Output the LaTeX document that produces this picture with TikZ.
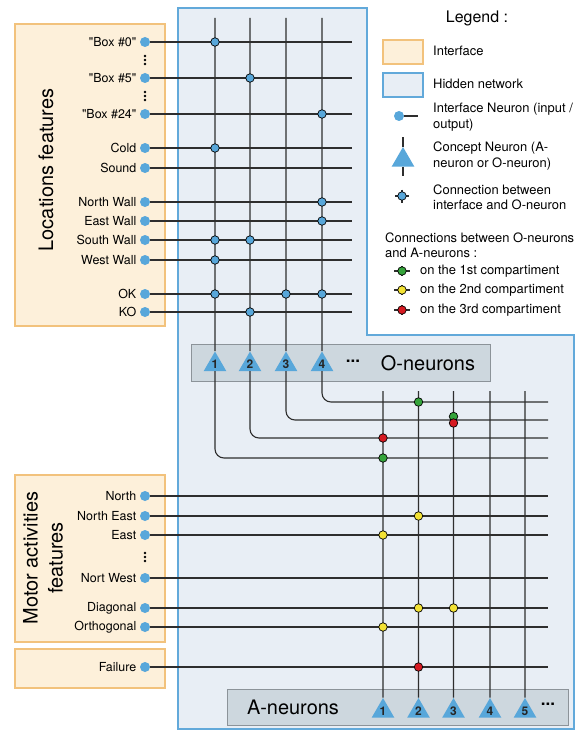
\documentclass[tikz,border=0pt]{standalone}
\usepackage{fontspec}
\setmainfont{TeX Gyre Heros}
\usetikzlibrary{shapes.geometric}

\definecolor{ifacefill}{HTML}{FDF0DA}
\definecolor{ifaceline}{HTML}{F2C27C}
\definecolor{hidfill}{HTML}{E8EEF5}
\definecolor{hidline}{HTML}{62A9DA}
\definecolor{groupfill}{HTML}{CDD7DE}
\definecolor{groupline}{HTML}{8C9399}
\definecolor{nblue}{HTML}{58A7DA}
\definecolor{wirecol}{HTML}{2E2E2E}
\definecolor{cgreen}{HTML}{35A43B}
\definecolor{cyellow}{HTML}{F3E234}
\definecolor{cred}{HTML}{D61A22}

\newcommand\qtd[1]{\XeTeXglyph\XeTeXcharglyph34 #1\XeTeXglyph\XeTeXcharglyph34\relax}

\tikzset{
  lbl/.style={font=\fontsize{12.5}{14}\selectfont},
  legtxt/.style={font=\fontsize{13}{15.5}\selectfont,align=left,anchor=west,inner sep=0pt},
  ifacebox/.style={fill=ifacefill,draw=ifaceline,line width=1.4bp},
  hidbox/.style={fill=hidfill,draw=hidline,line width=1.4bp},
  groupbox/.style={fill=groupfill,draw=groupline,line width=1bp},
  wire/.style={draw=wirecol,line width=1.1bp},
  ineuron/.style={circle,fill=nblue,inner sep=0pt,minimum size=10bp,label distance=2.5bp},
  cneuron/.style={regular polygon,regular polygon sides=3,fill=nblue,inner sep=0pt,minimum size=26bp,font=\fontsize{12}{12}\selectfont\bfseries,text=black!85},
  conn/.style={circle,draw=black,line width=0.7bp,inner sep=0pt,minimum size=8.5bp}
}

\begin{document}
\begin{tikzpicture}[x=1bp,y=-1bp]
\useasboundingbox[fill=white] (0,0) rectangle (582,733);

\draw[ifacebox] (15,24) rectangle (165,326);
\draw[ifacebox] (15,475) rectangle (165,642);
\draw[ifacebox] (15,649) rectangle (165,688);
\draw[hidbox] (178,8) -- (367,8) -- (367,335) -- (574,335) -- (574,729) -- (178,729) -- cycle;
\draw[groupbox] (191,344) rectangle (490,381);
\draw[groupbox] (227,689) rectangle (568,725);

\node[rotate=90,font=\fontsize{20}{24}\selectfont] (locfeat) at (46,170) {Locations features};
\node[rotate=90,align=center,font=\fontsize{20}{25}\selectfont] (motfeat) at (43,558) {Motor activities\\features};

\foreach \nm/\txt/\yy in {b0/\qtd{Box \#0}/42, b5/\qtd{Box \#5}/78, b24/\qtd{Box \#24}/114, cold/Cold/148, sound/Sound/168,
    nwall/North Wall/202, ewall/East Wall/221, swall/South Wall/240, wwall/West Wall/260, ok/OK/294, ko/KO/312}{
  \node[ineuron,label={[lbl]left:\txt}] (\nm) at (145,\yy) {};
  \coordinate (\nm-e) at (352,\yy);
  \draw[wire] (\nm) -- (\nm-e);
}
\foreach \nm/\txt/\yy in {north/North/496, neast/North East/516, east/East/535, nwest/Nort West/578,
    diag/Diagonal/608, ortho/Orthogonal/627, fail/Failure/667}{
  \node[ineuron,label={[lbl]left:\txt}] (\nm) at (145,\yy) {};
  \coordinate (\nm-e) at (548,\yy);
  \draw[wire] (\nm) -- (\nm-e);
}
\foreach \yy in {56,60,64,92,96,100,553,557,561}
  \fill (145,\yy) circle (1.3bp);

\foreach \i/\x/\yy in {1/215/458, 2/250/438, 3/286/420, 4/322/402}{
  \coordinate (ot\i) at (\x,18);
  \node[cneuron] (o\i) at (\x,364.5) {\i};
  \coordinate (oe\i) at (548,\yy);
  \draw[wire] (ot\i) -- (o\i);
  \draw[wire,rounded corners=9bp] (o\i) |- (oe\i);
}
\node[font=\fontsize{17}{17}\selectfont\bfseries] (odots) at (353,361) {...};
\node[font=\fontsize{20}{24}\selectfont] (otitle) at (428,363) {O-neurons};

\foreach \j/\x in {1/383, 2/418.5, 3/453.5, 4/490, 5/525}{
  \coordinate (at\j) at (\x,391);
  \node[cneuron] (a\j) at (\x,711) {\j};
  \draw[wire] (at\j) -- (a\j);
}
\node[font=\fontsize{17}{17}\selectfont\bfseries] (adots) at (548,704) {...};
\node[font=\fontsize{20}{24}\selectfont] (atitle) at (293,707) {A-neurons};

\foreach \nm/\i in {b0/1, b5/2, b24/4, cold/1, nwall/4, ewall/4, swall/1, swall/2, wwall/1, ok/1, ok/3, ok/4, ko/2}
  \node[conn,fill=nblue] (c-\nm-\i) at (ot\i |- \nm) {};

\foreach \rw/\j/\col/\dy in {oe4/2/cgreen/0, oe3/3/cgreen/-3.5, oe3/3/cred/3, oe2/1/cred/0, oe1/1/cgreen/0,
    neast/2/cyellow/0, east/1/cyellow/0, diag/2/cyellow/0, diag/3/cyellow/0, ortho/1/cyellow/0, fail/2/cred/0}
  \node[conn,fill=\col,yshift=-\dy bp] (c-\rw-\j-\col) at (at\j |- \rw) {};

\node[font=\fontsize{16}{18}\selectfont] (legtitle) at (477,18) {Legend :};
\draw[ifacebox] (383,40) rectangle (423,64);
\node[legtxt] (legiface) at (433,51) {Interface};
\draw[hidbox] (383,73) rectangle (423,97);
\node[legtxt] (leghid) at (433,84) {Hidden network};
\node[ineuron] (legin) at (399,116) {};
\coordinate (legin-e) at (418,116);
\draw[wire] (legin) -- (legin-e);
\node[legtxt] (legintxt) at (433,117) {Interface Neuron (input /\\output)};
\coordinate (legct) at (403,137);
\coordinate (legcb) at (403,176);
\node[cneuron] (legc) at (403,160) {};
\draw[wire] (legct) -- (legc);
\draw[wire] (legc) -- (legcb);
\node[legtxt] (legctxt) at (433,156) {Concept Neuron (A-\\neuron or O-neuron)};
\draw[wire] (395,196) -- (409,196) (402,189.5) -- (402,202.5);
\node[conn,fill=nblue] (legconn) at (402,196) {};
\node[legtxt] (legconntxt) at (433,197) {Connection between\\interface and O-neuron};
\node[legtxt] (legoa) at (385,245) {Connections between O-neurons\\and A-neurons :};
\foreach \col/\yy/\txt in {cgreen/271/1st, cyellow/290/2nd, cred/310/3rd}{
  \draw[wire] (394,\yy) -- (410,\yy) (402,\yy-5) -- (402,\yy+5);
  \node[conn,fill=\col] (leg-\col) at (402,\yy) {};
  \node[legtxt] (leg-\col-txt) at (420,\yy) {on the \txt\ compartiment};
}
\end{tikzpicture}
\end{document}
